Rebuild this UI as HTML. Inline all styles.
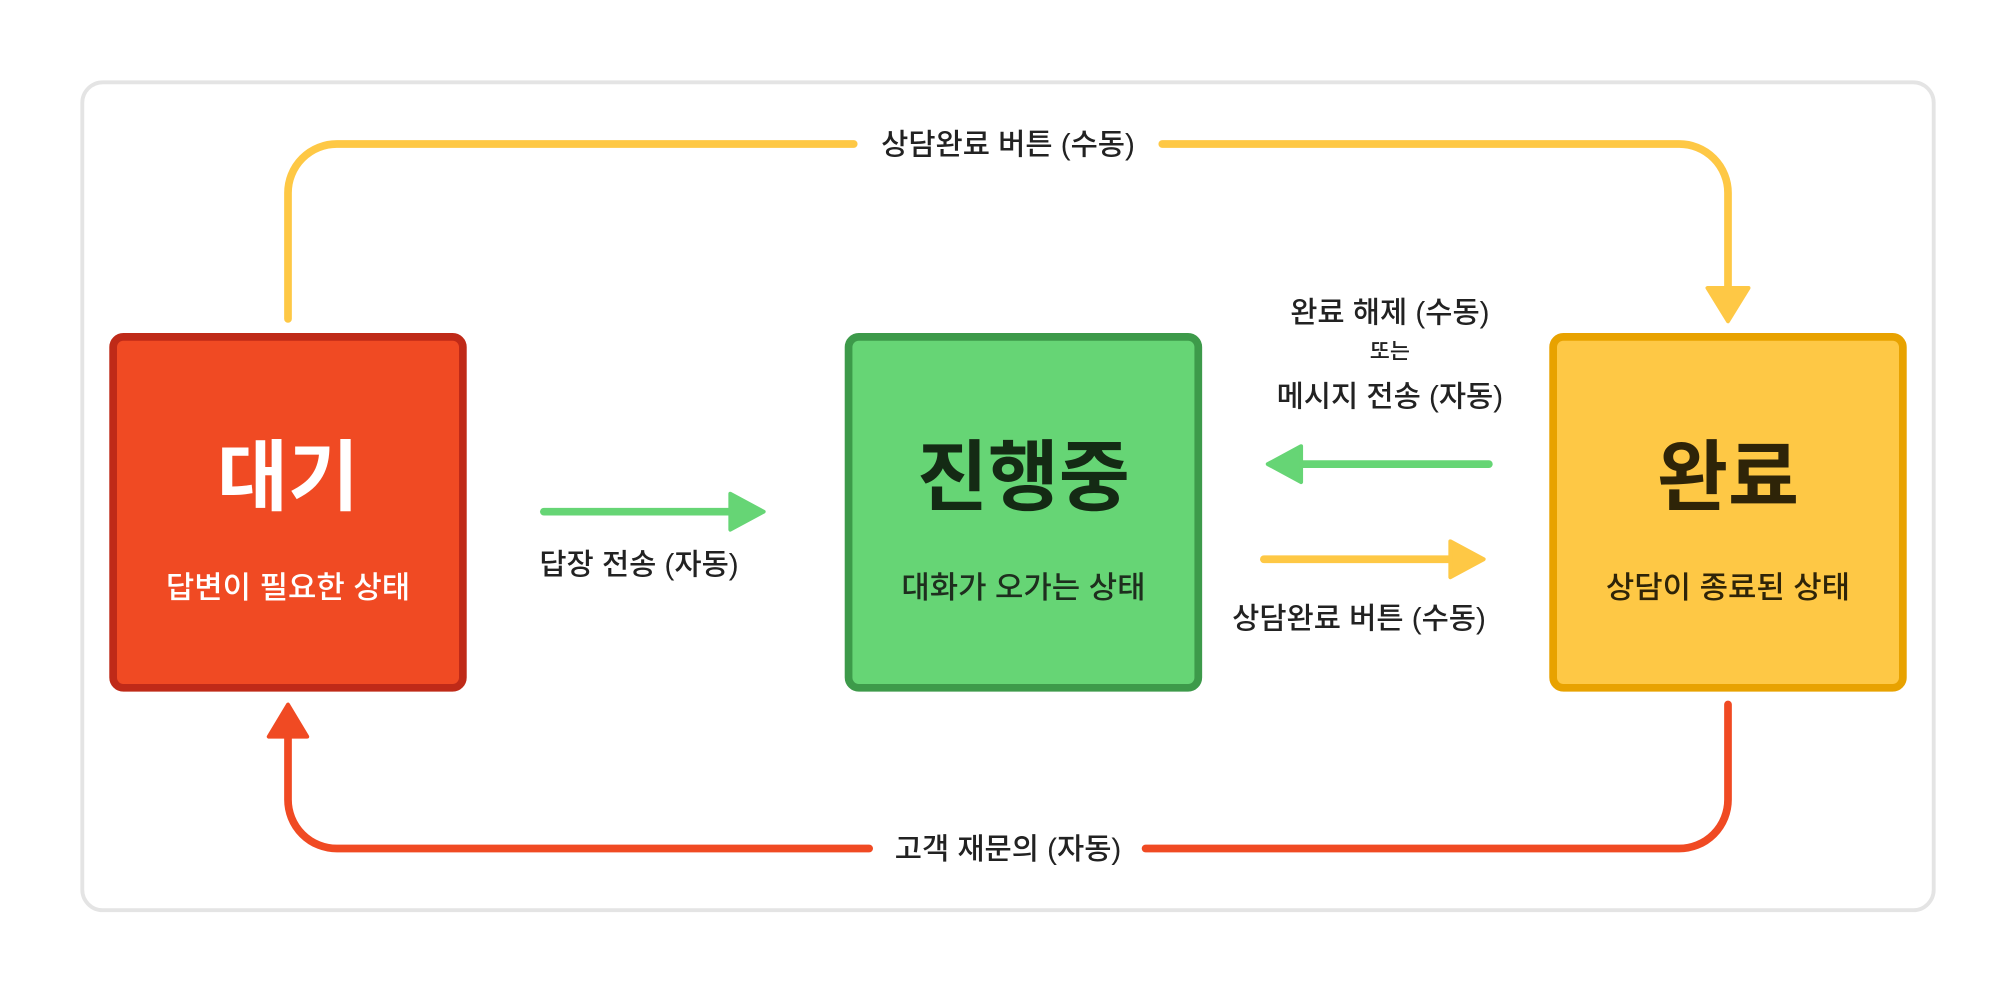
<!DOCTYPE html>
<html><head><meta charset="utf-8"><style>
html,body{margin:0;padding:0;background:#fff;}
svg{display:block;}
text{font-family:"Liberation Sans","Noto Sans CJK KR",sans-serif;font-weight:500;}
</style></head><body>
<svg width="2016" height="992" viewBox="0 0 1568 771.6" preserveAspectRatio="none" xmlns="http://www.w3.org/2000/svg">
<rect x="64" y="64" width="1440" height="644" rx="16" fill="#fff" stroke="#e4e4e4" stroke-width="3"/>
<g fill="none" stroke="#fec845" stroke-width="6" stroke-linecap="round">
<path d="M224 248 V150 A38 38 0 0 1 262 112 H664"/>
<path d="M904 112 H1306 A38 38 0 0 1 1344 150 V226"/>
</g>
<path d="M1328 224 L1360 224 L1344 250 Z" fill="#fec845" stroke="#fec845" stroke-width="3" stroke-linejoin="round"/>
<text x="784" y="120" font-size="23" text-anchor="middle" fill="#222">상담완료 버튼 (수동)</text>
<g fill="none" stroke="#f04a23" stroke-width="6" stroke-linecap="round">
<path d="M1344 548 V622 A38 38 0 0 1 1306 660 H891"/>
<path d="M676 660 H262 A38 38 0 0 1 224 622 V572"/>
</g>
<path d="M209 573 L239 573 L224 548 Z" fill="#f04a23" stroke="#f04a23" stroke-width="3" stroke-linejoin="round"/>
<text x="784" y="668" font-size="23" text-anchor="middle" fill="#222">고객 재문의 (자동)</text>
<rect x="88" y="262" width="272" height="273" rx="8" fill="#f04a23" stroke="#bf2a18" stroke-width="6"/>
<text x="224" y="392" font-size="60" font-weight="bold" style="font-weight:bold" text-anchor="middle" fill="#fff">대기</text>
<text x="224" y="465" font-size="24" text-anchor="middle" fill="#fff">답변이 필요한 상태</text>
<rect x="660" y="262" width="272" height="273" rx="8" fill="#66d575" stroke="#3d9a4a" stroke-width="6"/>
<text x="796" y="392" font-size="60" style="font-weight:bold" text-anchor="middle" fill="#142a14">진행중</text>
<text x="796" y="465" font-size="24" text-anchor="middle" fill="#1e2e1e">대화가 오가는 상태</text>
<rect x="1208" y="262" width="272" height="273" rx="8" fill="#fec845" stroke="#e8a200" stroke-width="6"/>
<text x="1344" y="392" font-size="60" style="font-weight:bold" text-anchor="middle" fill="#2e2408">완료</text>
<text x="1344" y="465" font-size="24" text-anchor="middle" fill="#2e2408">상담이 종료된 상태</text>
<line x1="423" y1="398" x2="570" y2="398" stroke="#66d575" stroke-width="6" stroke-linecap="round"/>
<path d="M568 384 L594 398 L568 412 Z" fill="#66d575" stroke="#66d575" stroke-width="3" stroke-linejoin="round"/>
<text x="497" y="447" font-size="23" text-anchor="middle" fill="#222">답장 전송 (자동)</text>
<line x1="1158" y1="361" x2="1010" y2="361" stroke="#66d575" stroke-width="6" stroke-linecap="round"/>
<path d="M1012 347 L986 361 L1012 375 Z" fill="#66d575" stroke="#66d575" stroke-width="3" stroke-linejoin="round"/>
<line x1="983" y1="435" x2="1130" y2="435" stroke="#fec845" stroke-width="6" stroke-linecap="round"/>
<path d="M1128 421 L1154 435 L1128 449 Z" fill="#fec845" stroke="#fec845" stroke-width="3" stroke-linejoin="round"/>
<text x="1081" y="251" font-size="23" text-anchor="middle" fill="#222">완료 해제 (수동)</text>
<text x="1081" y="279" font-size="17" text-anchor="middle" fill="#222">또는</text>
<text x="1081" y="316" font-size="23" text-anchor="middle" fill="#222">메시지 전송 (자동)</text>
<text x="1057" y="489" font-size="23" text-anchor="middle" fill="#222">상담완료 버튼 (수동)</text>
</svg>
</body></html>
